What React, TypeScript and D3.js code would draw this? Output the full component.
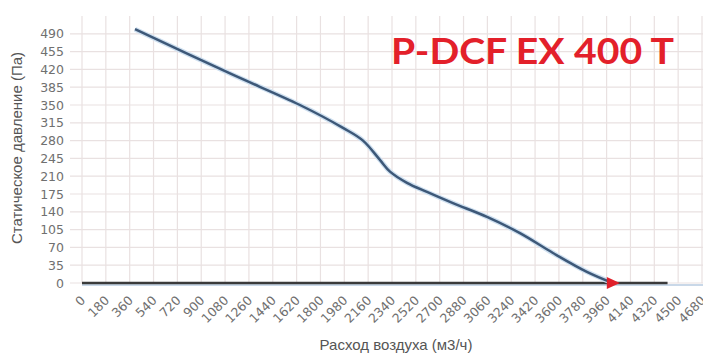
import { useEffect, useRef } from 'react';
import * as d3 from 'd3';

const W = 703;
const H = 354;

// y ticks (Pa), x ticks (m3/h)
const yTicks = [0, 35, 70, 105, 140, 175, 210, 245, 280, 315, 350, 385, 420, 455, 490];
const xTicks = [
  0, 180, 360, 540, 720, 900, 1080, 1260, 1440, 1620, 1800, 1980, 2160, 2340,
  2520, 2700, 2880, 3060, 3240, 3420, 3600, 3780, 3960, 4140, 4320, 4500, 4680,
];

// fan curve
const flow = [400, 1117, 1645, 1970, 2121, 2249, 2325, 2453, 2604, 2800, 3057, 3306, 3555, 3811, 4007];
const pressure = [499, 412, 350, 305, 280, 242, 219, 197, 179, 157, 130, 98, 59, 22, 0];

// system line at zero
const sysFlow = [0, 4420];
const sysPressure = [0, 0];

const workPoint = [4007, 0];

export default function App() {
  const ref = useRef<SVGSVGElement>(null);

  useEffect(() => {
    if (!ref.current) return;
    const svg = d3.select(ref.current);
    svg.selectAll('*').remove();

    const x = d3.scaleLinear().domain([0, 4680]).range([82, 702]);
    const y = d3.scaleLinear().domain([0, 525]).range([283, 16]);

    const grid = svg.append('g');
    // vertical grid
    grid.selectAll('line.v')
      .data(xTicks)
      .enter()
      .append('line')
      .attr('x1', d => x(d))
      .attr('x2', d => x(d))
      .attr('y1', y(525))
      .attr('y2', y(0))
      .style('stroke', '#e9e1e1')
      .style('stroke-width', 1.2);
    // horizontal grid (with ticks to the left)
    grid.selectAll('line.h')
      .data(yTicks)
      .enter()
      .append('line')
      .attr('x1', 70)
      .attr('x2', W)
      .attr('y1', d => y(d))
      .attr('y2', d => y(d))
      .style('stroke', '#e9e1e1')
      .style('stroke-width', 1.2);

    // y tick labels
    svg.append('g')
      .selectAll('text')
      .data(yTicks)
      .enter()
      .append('text')
      .attr('x', 64)
      .attr('y', d => y(d) + 4.5)
      .attr('text-anchor', 'end')
      .style('font-family', 'DejaVu Sans, sans-serif')
      .style('font-size', '12.5px')
      .style('fill', '#707070')
      .text(d => d);

    // x tick labels, rotated
    svg.append('g')
      .selectAll('text')
      .data(xTicks)
      .enter()
      .append('text')
      .attr('transform', d => `translate(${x(d) - 2},${295}) rotate(-45)`)
      .attr('text-anchor', 'end')
      .attr('dy', '0.7em')
      .style('font-family', 'DejaVu Sans, sans-serif')
      .style('font-size', '12.5px')
      .style('fill', '#707070')
      .text(d => d);

    // x axis line
    svg.append('line')
      .attr('x1', x(0))
      .attr('x2', W)
      .attr('y1', y(0) + 2)
      .attr('y2', y(0) + 2)
      .style('stroke', '#c9d8e8')
      .style('stroke-width', 2);

    // system line
    const sys = sysFlow.map((f, i) => [f, sysPressure[i]] as [number, number]);
    svg.append('path')
      .attr('d', d3.line().x(d => x(d[0])).y(d => y(d[1]))(sys))
      .style('fill', 'none')
      .style('stroke', '#3a3a3a')
      .style('stroke-width', 2.5);

    // fan curve
    const pts = flow.map((f, i) => [f, pressure[i]] as [number, number]);
    const line = d3.line().x(d => x(d[0])).y(d => y(d[1])).curve(d3.curveCatmullRom.alpha(0.5));
    svg.append('path')
      .attr('d', line(pts))
      .style('fill', 'none')
      .style('stroke', '#cfe0f0')
      .style('stroke-width', 5);
    svg.append('path')
      .attr('d', line(pts))
      .style('fill', 'none')
      .style('stroke', '#3d5878')
      .style('stroke-width', 2.5);

    // working point marker
    const px = x(workPoint[0]);
    const py = y(workPoint[1]);
    svg.append('path')
      .attr('d', `M${px - 6},${py - 6}L${px + 7},${py}L${px - 6},${py + 6}Z`)
      .style('fill', '#e0202a');

    // axis titles
    svg.append('text')
      .attr('transform', `translate(22,${148}) rotate(-90)`)
      .attr('text-anchor', 'middle')
      .style('font-family', 'Liberation Sans, Arial, sans-serif')
      .style('font-size', '15px')
      .style('fill', '#555')
      .text('Статическое давление (Па)');
    svg.append('text')
      .attr('x', 396)
      .attr('y', 350)
      .attr('text-anchor', 'middle')
      .style('font-family', 'Liberation Sans, Arial, sans-serif')
      .style('font-size', '15px')
      .style('fill', '#555')
      .text('Расход воздуха (м3/ч)');

    // model name
    svg.append('text')
      .attr('x', 391)
      .attr('y', 64)
      .attr('textLength', 283)
      .attr('lengthAdjust', 'spacingAndGlyphs')
      .style('font-family', 'Lato, Open Sans, sans-serif')
      .style('font-weight', 'bold')
      .style('font-size', '36px')
      .style('fill', '#e3202a')
      .text('P-DCF EX 400 T');
  }, []);

  return (
    <svg
      ref={ref}
      width={W}
      height={H}
      style={{ position: 'absolute', left: 0, top: 0, background: '#fff' }}
    />
  );
}
